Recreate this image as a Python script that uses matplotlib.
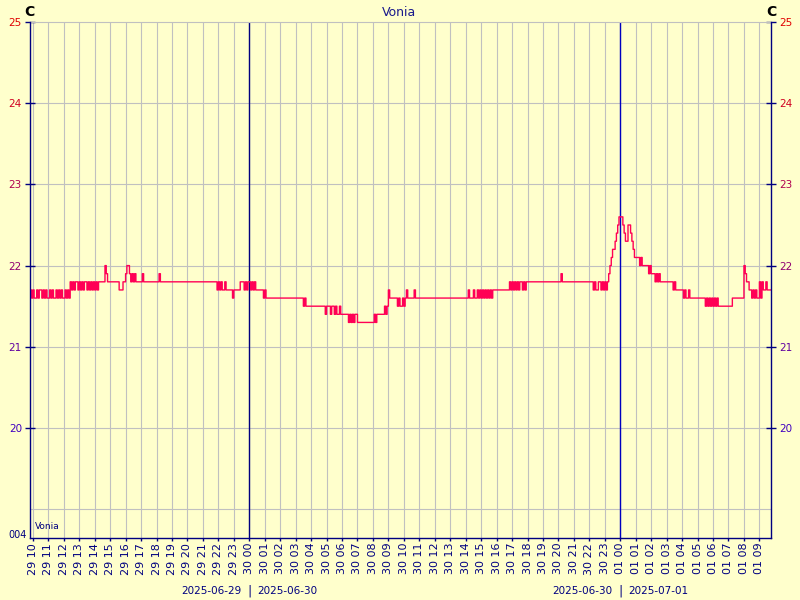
import matplotlib
matplotlib.use('Agg')
import matplotlib.pyplot as plt
import matplotlib.dates as mdates
import numpy as np
import pandas as pd

# sensor name and unit
title = 'Vonia'
unit = 'C'

# 5 minute readings, in tenths of a degree, starting 2025-06-29 09:50
start = '2025-06-29 09:50'
step = '5min'

t_0950 = [217, 216, 217, 216, 216, 217, 216, 217, 217, 216, 217, 216, 217, 216, 216, 217,
          216, 217, 216, 216, 217, 216, 217, 216, 217, 216, 216, 217, 216, 217, 216, 218,
          217, 218, 217, 218, 218, 217, 218, 217, 218, 217, 218, 218, 217, 218, 217, 218]
t_1350 = [217, 218, 217, 218, 217, 218, 218, 218, 218, 218, 220, 219, 218, 218, 218, 218,
          218, 218, 218, 218, 218, 217, 217, 217, 218, 218, 219, 220, 220, 219, 218, 219,
          218, 219, 218, 218, 218, 218, 218, 219, 218, 218, 218, 218, 218, 218, 218, 218]
t_1750 = [218, 218, 218, 218, 219, 218, 218, 218, 218, 218, 218, 218, 218, 218, 218, 218,
          218, 218, 218, 218, 218, 218, 218, 218, 218, 218, 218, 218, 218, 218, 218, 218,
          218, 218, 218, 218, 218, 218, 218, 218, 218, 218, 218, 218, 218, 218, 218, 218]
t_2150 = [218, 217, 218, 217, 218, 217, 217, 218, 217, 217, 217, 217, 217, 216, 217, 217,
          217, 217, 217, 218, 218, 218, 217, 218, 217, 218, 218, 217, 218, 217, 218, 217,
          217, 217, 217, 217, 217, 216, 217, 216, 216, 216, 216, 216, 216, 216, 216, 216]
t_0150 = [216, 216, 216, 216, 216, 216, 216, 216, 216, 216, 216, 216, 216, 216, 216, 216,
          216, 216, 216, 216, 215, 216, 215, 215, 215, 215, 215, 215, 215, 215, 215, 215,
          215, 215, 215, 215, 215, 214, 215, 215, 215, 214, 215, 215, 214, 215, 214, 214]
t_0550 = [215, 214, 214, 214, 214, 214, 214, 213, 214, 213, 214, 213, 214, 214, 213, 213,
          213, 213, 213, 213, 213, 213, 213, 213, 213, 213, 213, 214, 213, 214, 214, 214,
          214, 214, 214, 215, 214, 215, 217, 216, 216, 216, 216, 216, 216, 215, 216, 215]
t_0950b = [215, 216, 215, 216, 217, 216, 216, 216, 216, 216, 217, 216, 216, 216, 216, 216,
           216, 216, 216, 216, 216, 216, 216, 216, 216, 216, 216, 216, 216, 216, 216, 216,
           216, 216, 216, 216, 216, 216, 216, 216, 216, 216, 216, 216, 216, 216, 216, 216]
t_1350b = [216, 216, 216, 216, 217, 216, 216, 216, 217, 216, 216, 217, 216, 217, 216, 217,
           216, 217, 216, 217, 216, 217, 216, 217, 217, 217, 217, 217, 217, 217, 217, 217,
           217, 217, 217, 217, 218, 217, 218, 217, 218, 217, 218, 217, 218, 218, 217, 218]
t_1750b = [217, 218, 218, 218, 218, 218, 218, 218, 218, 218, 218, 218, 218, 218, 218, 218,
           218, 218, 218, 218, 218, 218, 218, 218, 218, 218, 218, 218, 219, 218, 218, 218,
           218, 218, 218, 218, 218, 218, 218, 218, 218, 218, 218, 218, 218, 218, 218, 218]
t_2150b = [218, 218, 218, 218, 218, 217, 218, 217, 217, 218, 218, 217, 218, 217, 218, 217,
           218, 219, 220, 221, 222, 222, 223, 224, 225, 226, 226, 226, 225, 224, 223, 223,
           225, 225, 224, 223, 222, 221, 221, 221, 221, 220, 221, 220, 220, 220, 220, 220]
t_0150c = [219, 220, 219, 219, 219, 218, 219, 218, 219, 218, 218, 218, 218, 218, 218, 218,
           218, 218, 218, 217, 218, 217, 217, 217, 217, 217, 217, 216, 217, 216, 216, 217,
           216, 216, 216, 216, 216, 216, 216, 216, 216, 216, 216, 216, 215, 216, 215, 216]
t_0550c = [215, 216, 215, 216, 215, 216, 215, 215, 215, 215, 215, 215, 215, 215, 215, 215,
           215, 216, 216, 216, 216, 216, 216, 216, 216, 216, 220, 219, 218, 218, 217, 217,
           216, 217, 216, 217, 216, 216, 218, 216, 218, 217, 217, 218, 217, 217, 217, 217]

x_from = '2025-06-29 09:49'
x_to = '2025-07-01 09:45'
day_lines = ['2025-06-30 00:00', '2025-07-01 00:00']
day_line_colors = ['#000080', '#0000c0']
day_labels = [('2025-06-29', '2025-06-30'), ('2025-06-30', '2025-07-01')]

y_ticks = [20, 21, 22, 23, 24, 25]
y_tick_colors = ['#4000c0', '#6000a0', '#900070', '#b00050', '#d00020', '#e00000']
y_grid = [19, 20, 21, 22, 23, 24]
y_low, y_high = 18.645, 25

bg = '#ffffcc'
navy = '#000080'
grey = '#c0c0c0'
line_col = '#ff0055'

temps = np.array(t_0950 + t_1350 + t_1750 + t_2150 + t_0150 + t_0550 +
                 t_0950b + t_1350b + t_1750b + t_2150b + t_0150c + t_0550c) / 10.0
times = pd.date_range(start, periods=len(temps), freq=step)

fig = plt.figure(figsize=(8, 6), dpi=100, facecolor=bg)
ax = fig.add_axes([30 / 800, 1 - 538 / 600, 741 / 800, 516 / 600], facecolor=bg)
ax.set_axisbelow(True)

ax.set_xlim(pd.Timestamp(x_from), pd.Timestamp(x_to))
ax.set_ylim(y_low, y_high)

# grid
ax.xaxis.set_major_locator(mdates.HourLocator())
ax.xaxis.set_major_formatter(mdates.DateFormatter('%d %H'))
ax.grid(axis='x', color=grey, lw=0.8)
for g in y_grid:
    ax.axhline(g, color=grey, lw=0.8, zorder=0.4)

# day change lines
for d, c in zip(day_lines, day_line_colors):
    ax.axvline(pd.Timestamp(d), color=c, lw=1.0, zorder=2)

ax.plot(times, temps, drawstyle='steps-post', color=line_col, lw=1.0, zorder=3)

# axes look
for s in ['left', 'right', 'bottom']:
    ax.spines[s].set_color(navy)
    ax.spines[s].set_linewidth(1.0)
    ax.spines[s].set_zorder(4)
ax.spines['top'].set_color(grey)
ax.spines['top'].set_linewidth(0.8)

ax.set_yticks(y_ticks)
ax.tick_params(axis='y', which='major', direction='inout', length=7, width=1,
               color=navy, labelsize=7.5, pad=2.3, left=True, right=True,
               labelleft=True, labelright=True)
for tk, c in zip(ax.yaxis.get_major_ticks(), y_tick_colors):
    tk.label1.set_color(c)
    tk.label2.set_color(c)

ax.tick_params(axis='x', which='major', direction='out', length=2.5, width=1,
               color=navy, labelcolor=navy, labelsize=8, pad=1, labelrotation=90)

# texts
fig.text(399 / 800, 1 - 12 / 600, title, ha='center', va='center', color='#1a1a8c', fontsize=9)
fig.text(29 / 800, 1 - 12 / 600, unit, ha='center', va='center', color='black',
         fontsize=10, fontweight='bold')
fig.text(771 / 800, 1 - 12 / 600, unit, ha='center', va='center', color='black',
         fontsize=10, fontweight='bold')
fig.text(27 / 800, 1 - 535 / 600, '004', ha='right', va='center', color=navy, fontsize=7)
fig.text(35 / 800, 1 - 526.5 / 600, title, ha='left', va='center', color=navy, fontsize=6.5)

for d, (a, b) in zip(day_lines, day_labels):
    xd = ax.transData.transform((mdates.date2num(pd.Timestamp(d)), 0))[0]
    fig.text((xd - 8) / 800, 1 - 591 / 600, a, ha='right', va='center', color=navy, fontsize=7.5)
    fig.text(xd / 800, 1 - 591 / 600, '|', ha='center', va='center', color=navy, fontsize=9)
    fig.text((xd + 8) / 800, 1 - 591 / 600, b, ha='left', va='center', color=navy, fontsize=7.5)

fig.savefig('out.png', dpi=100, facecolor=bg)
